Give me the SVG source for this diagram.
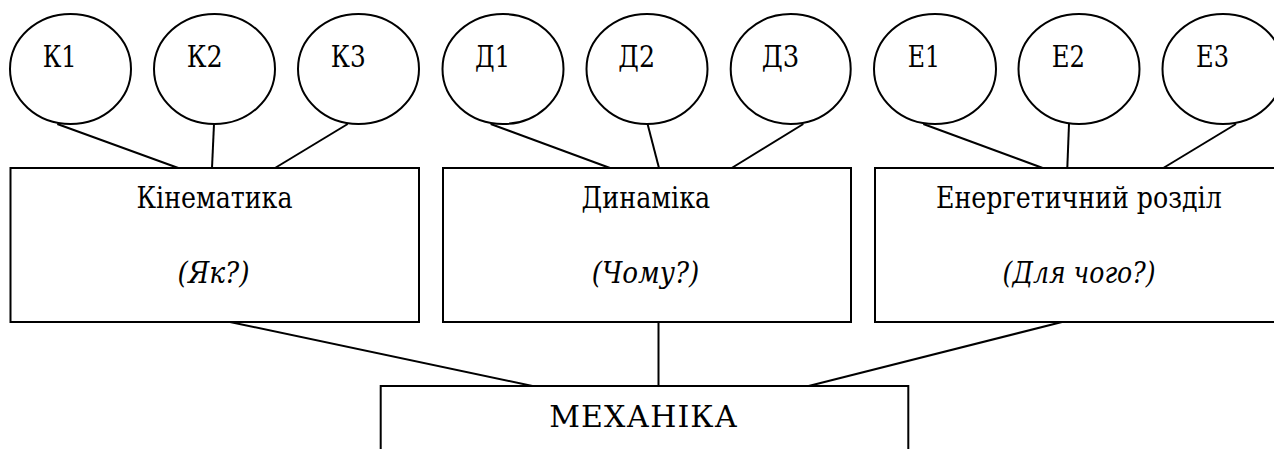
<svg xmlns="http://www.w3.org/2000/svg" width="1274" height="449" viewBox="0 0 1274 449">
<style>
.sh{fill:#fff;stroke:#000;stroke-width:2}
.ln{stroke:#000;stroke-width:2;fill:none}
.t{font-family:"DejaVu Serif",serif;font-size:30px;fill:#000}
.i{font-style:italic}
</style>
<rect width="1274" height="449" fill="#fff"/>
<g id="connectors" class="ln">
<line x1="57.3" y1="124" x2="178.3" y2="168"/>
<line x1="214" y1="124" x2="212" y2="168"/>
<line x1="347.7" y1="124" x2="275" y2="168"/>
<line x1="490.7" y1="124" x2="610" y2="168"/>
<line x1="647.3" y1="123" x2="659" y2="168"/>
<line x1="803.3" y1="124" x2="731.7" y2="168"/>
<line x1="923.3" y1="124" x2="1042.7" y2="168"/>
<line x1="1069" y1="124" x2="1067.3" y2="168"/>
<line x1="1236" y1="124" x2="1163.3" y2="168"/>
<line x1="230" y1="322" x2="539.5" y2="387.5"/>
<line x1="658.5" y1="322" x2="658.5" y2="386.5"/>
<line x1="1062" y1="322" x2="802.7" y2="387.5"/>
</g>
<g id="K1"><ellipse class="sh" cx="70.5" cy="69" rx="60.5" ry="55"/><text class="t" x="42.7" y="67" textLength="34" lengthAdjust="spacingAndGlyphs">К1</text></g>
<g id="K2"><ellipse class="sh" cx="214.5" cy="69" rx="60.5" ry="55"/><text class="t" x="186.7" y="67" textLength="36" lengthAdjust="spacingAndGlyphs">К2</text></g>
<g id="K3"><ellipse class="sh" cx="358.5" cy="69" rx="60.5" ry="55"/><text class="t" x="330.7" y="67" textLength="35" lengthAdjust="spacingAndGlyphs">К3</text></g>
<g id="D1"><ellipse class="sh" cx="503" cy="69" rx="60.5" ry="55"/><text class="t" x="475" y="67" textLength="35" lengthAdjust="spacingAndGlyphs">Д1</text></g>
<g id="D2"><ellipse class="sh" cx="647" cy="69" rx="60.5" ry="55"/><text class="t" x="618.3" y="67" textLength="36.7" lengthAdjust="spacingAndGlyphs">Д2</text></g>
<g id="D3"><ellipse class="sh" cx="790.7" cy="69" rx="60" ry="55"/><text class="t" x="761.7" y="67" textLength="37.6" lengthAdjust="spacingAndGlyphs">Д3</text></g>
<g id="E1"><ellipse class="sh" cx="935" cy="69" rx="61" ry="55"/><text class="t" x="907.7" y="67" textLength="32.3" lengthAdjust="spacingAndGlyphs">Е1</text></g>
<g id="E2"><ellipse class="sh" cx="1079" cy="69" rx="60.5" ry="55"/><text class="t" x="1051.7" y="67" textLength="33.3" lengthAdjust="spacingAndGlyphs">Е2</text></g>
<g id="E3"><ellipse class="sh" cx="1223" cy="69" rx="60.5" ry="55"/><text class="t" x="1196" y="67" textLength="33" lengthAdjust="spacingAndGlyphs">Е3</text></g>
<g id="kinematics"><rect class="sh" x="10.5" y="168" width="408.5" height="154"/><text class="t" x="136.5" y="208" textLength="156" lengthAdjust="spacingAndGlyphs">Кінематика</text><text class="t i" x="177.6" y="283" textLength="72" lengthAdjust="spacingAndGlyphs">(Як?)</text></g>
<g id="dynamics"><rect class="sh" x="443" y="168" width="408" height="154"/><text class="t" x="581.6" y="208" textLength="128.7" lengthAdjust="spacingAndGlyphs">Динаміка</text><text class="t i" x="591.8" y="283" textLength="107.5" lengthAdjust="spacingAndGlyphs">(Чому?)</text></g>
<g id="energy"><rect class="sh" x="875" y="168" width="410" height="154"/><text class="t" x="936" y="208" textLength="285.7" lengthAdjust="spacingAndGlyphs">Енергетичний розділ</text><text class="t i" x="1002.6" y="283" textLength="153" lengthAdjust="spacingAndGlyphs">(Для чого?)</text></g>
<g id="mechanics"><rect class="sh" x="380.7" y="386" width="527.6" height="80"/><text class="t" x="549.3" y="426.7" font-size="27" textLength="188" lengthAdjust="spacing">МЕХАНІКА</text></g>
</svg>
